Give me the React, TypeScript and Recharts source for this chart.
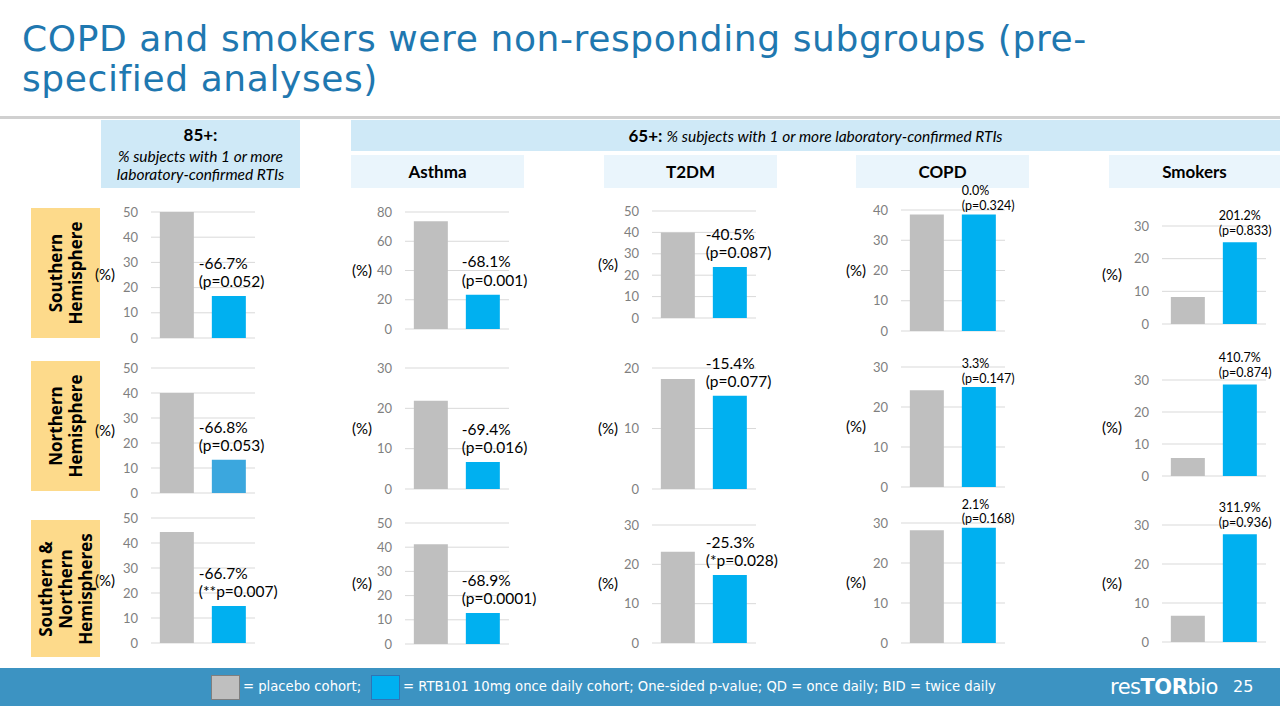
import React from "react";
import { Bar, BarChart, CartesianGrid, Cell, LabelList, XAxis, YAxis } from "recharts";

// ---- data ----
const categories = ["Placebo", "RTB101 10mg QD"];
const regions = ["Southern\nHemisphere", "Northern\nHemisphere", "Southern &\nNorthern\nHemispheres"];
const subgroups = ["Asthma", "T2DM", "COPD", "Smokers"];

// rows: Southern, Northern, Southern & Northern; cols: 85+, Asthma, T2DM, COPD, Smokers
const placebo = [
  [50, 73.7, 40, 38.5, 8.3],
  [40, 21.9, 18.2, 24.2, 5.6],
  [44.4, 41.2, 23.2, 28.2, 6.7]
];
const rtb101 = [
  [16.7, 23.5, 23.8, 38.5, 25.0],
  [13.3, 6.7, 15.4, 25.0, 28.6],
  [14.8, 12.8, 17.3, 28.8, 27.6]
];
const changes = [
  ["-66.7%", "-68.1%", "-40.5%", "0.0%", "201.2%"],
  ["-66.8%", "-69.4%", "-15.4%", "3.3%", "410.7%"],
  ["-66.7%", "-68.9%", "-25.3%", "2.1%", "311.9%"]
];
const pValues = [
  ["(p=0.052)", "(p=0.001)", "(p=0.087)", "(p=0.324)", "(p=0.833)"],
  ["(p=0.053)", "(p=0.016)", "(p=0.077)", "(p=0.147)", "(p=0.874)"],
  ["(**p=0.007)", "(p=0.0001)", "(*p=0.028)", "(p=0.168)", "(p=0.936)"]
];
const yTicks = [
  [[0, 10, 20, 30, 40, 50], [0, 20, 40, 60, 80], [0, 10, 20, 30, 40, 50], [0, 10, 20, 30, 40], [0, 10, 20, 30]],
  [[0, 10, 20, 30, 40, 50], [0, 10, 20, 30], [0, 10, 20], [0, 10, 20, 30], [0, 10, 20, 30]],
  [[0, 10, 20, 30, 40, 50], [0, 10, 20, 30, 40, 50], [0, 10, 20, 30], [0, 10, 20, 30], [0, 10, 20, 30]]
];

// ---- layout ----
const plotLeft = [151, 405, 652, 901, 1162];
const plotTop = [
  [212, 212, 211, 210, 226],
  [368, 368, 368, 367, 380],
  [518, 523, 525, 523, 525]
];
const plotBottom = [
  [338, 329, 318, 331, 324],
  [493, 489, 489, 487, 476],
  [643, 644, 643, 643, 642]
];
const pctOffset = [6, 3, 4, 5, 10];
const labelDx = [-13, -4, -7, 0, -4];
const labelDy = [15, 15, 15, 9, 12];
const labelSize = [15.5, 15.5, 15.5, 12.5, 12.5];

const gray = "#bfbfbf";
const blue = "#00b0f0";
const chartFont = "Lato, 'Open Sans', sans-serif";

function MiniChart({ row, col }: { row: number; col: number }) {
  const data = categories.map((name, i) => ({
    name,
    value: i === 0 ? placebo[row][col] : rtb101[row][col]
  }));
  const ticks = yTicks[row][col];
  const top = plotTop[row][col];
  const bottom = plotBottom[row][col];
  const yW = 30;
  const m = { top: 45, right: 60, bottom: 10, left: 30 };
  const width = m.left + yW + 104 + m.right;
  const height = m.top + (bottom - top) + m.bottom;
  const blueFill = row === 1 && col === 0 ? "#3ba7de" : blue;

  const renderLabel = (props: any) => {
    const { x, y, index } = props;
    if (index !== 1) return null;
    const fs = labelSize[col];
    const lx = Number(x) + labelDx[col];
    const y2 = Number(y) - labelDy[col];
    const y1 = y2 - fs * 1.17;
    return (
      <text fontFamily={chartFont} fontSize={fs} fill="#000">
        <tspan x={lx} y={y1} dominantBaseline="central">{changes[row][col]}</tspan>
        <tspan x={lx} y={y2} dominantBaseline="central">{pValues[row][col]}</tspan>
      </text>
    );
  };

  return (
    <div style={{ position: "absolute", left: plotLeft[col] - yW - m.left, top: top - m.top }}>
      <BarChart width={width} height={height} data={data} margin={m} barCategoryGap="17%">
        <CartesianGrid vertical={false} stroke="#d9d9d9" />
        <XAxis dataKey="name" hide />
        <YAxis
          width={yW}
          domain={[0, ticks[ticks.length - 1]]}
          ticks={ticks}
          interval={0}
          axisLine={false}
          tickLine={false}
          tickMargin={7}
          tick={{ fill: "#7f7f7f", fontSize: 13, fontFamily: chartFont }}
          label={{ value: "(%)", position: "left", offset: pctOffset[col], fill: "#000", fontSize: 15, fontFamily: chartFont }}
        />
        <Bar dataKey="value" isAnimationActive={false}>
          {data.map((d, i) => (
            <Cell key={d.name} fill={i === 0 ? gray : blueFill} />
          ))}
          <LabelList dataKey="value" content={renderLabel} />
        </Bar>
      </BarChart>
    </div>
  );
}

const box = (left: number, top: number, w: number, h: number, bg: string): React.CSSProperties => ({
  position: "absolute",
  left,
  top,
  width: w,
  height: h,
  background: bg,
  display: "flex",
  alignItems: "center",
  justifyContent: "center",
  textAlign: "center",
  fontFamily: chartFont
});

const subLeft = [351, 604, 856, 1109];
const rowBoxes = [
  [208, 130],
  [361, 130],
  [520, 137]
];

const footText: React.CSSProperties = {
  position: "absolute",
  top: 679,
  fontFamily: "'DejaVu Sans', sans-serif",
  fontSize: 13.2,
  color: "#fff",
  whiteSpace: "pre"
};

export default function App() {
  return (
    <div style={{ position: "absolute", left: 0, top: 0, width: 1280, height: 720, background: "#fff", overflow: "hidden" }}>
      <div
        style={{
          position: "absolute",
          left: 22,
          top: 19,
          width: 1250,
          fontFamily: "'DejaVu Sans', sans-serif",
          fontSize: 36,
          lineHeight: "40px",
          color: "#1f78b0",
          letterSpacing: 0.6
        }}
      >
        COPD and smokers were non-responding subgroups (pre-
        <br />
        specified analyses)
      </div>
      <div style={{ position: "absolute", left: 0, top: 116, width: 1280, height: 3, background: "#d0d0d0" }} />

      <div style={{ ...box(101, 120, 199, 68, "#cfe9f7"), flexDirection: "column", lineHeight: "18px" }}>
        <div style={{ fontWeight: 700, fontSize: 17, marginBottom: 3 }}>85+:</div>
        <div style={{ fontStyle: "italic", fontSize: 15.5 }}>% subjects with 1 or more</div>
        <div style={{ fontStyle: "italic", fontSize: 15.5 }}>laboratory-confirmed RTIs</div>
      </div>
      <div style={{ ...box(351, 120, 929, 31, "#cfe9f7") }}>
        <span style={{ fontWeight: 700, fontSize: 17 }}>65+:&nbsp;</span>
        <span style={{ fontStyle: "italic", fontSize: 15.5 }}>% subjects with 1 or more laboratory-confirmed RTIs</span>
      </div>
      {subgroups.map((s, i) => (
        <div key={s} style={{ ...box(subLeft[i], 155, i === 3 ? 171 : 173, 33, "#eaf5fc"), fontWeight: 700, fontSize: 17 }}>
          {s}
        </div>
      ))}

      {regions.map((r, i) => (
        <div key={r} style={box(31, rowBoxes[i][0], 69, rowBoxes[i][1], "#fdda8b")}>
          <div
            style={{
              transform: "rotate(-90deg)",
              whiteSpace: "pre",
              fontWeight: 700,
              fontSize: 17,
              lineHeight: "20px",
              fontFamily: "'Open Sans', sans-serif"
            }}
          >
            {r}
          </div>
        </div>
      ))}

      {placebo.map((rowVals, row) =>
        rowVals.map((_, col) => <MiniChart key={`${row}-${col}`} row={row} col={col} />)
      )}

      <div style={{ position: "absolute", left: 0, top: 668, width: 1280, height: 38, background: "#3c93c2" }} />
      <div style={{ position: "absolute", left: 211, top: 675, width: 27, height: 23, background: gray, border: "1px solid #7f7f7f" }} />
      <div style={{ position: "absolute", left: 371, top: 675, width: 27, height: 23, background: blue, border: "1px solid #2e75b6" }} />
      <div style={{ ...footText, left: 243 }}>= placebo cohort;</div>
      <div style={{ ...footText, left: 403 }}>
        = RTB101 10mg once daily cohort; One-sided p-value; QD = once daily; BID = twice daily
      </div>
      <div
        style={{
          position: "absolute",
          left: 1110,
          top: 675,
          fontFamily: "'DejaVu Sans', sans-serif",
          fontSize: 21,
          color: "#fff",
          letterSpacing: -0.5
        }}
      >
        res<b>TOR</b>bio
      </div>
      <div
        style={{
          position: "absolute",
          left: 1233,
          top: 677,
          fontFamily: "'DejaVu Sans', sans-serif",
          fontSize: 16,
          color: "#fff"
        }}
      >
        25
      </div>
    </div>
  );
}
